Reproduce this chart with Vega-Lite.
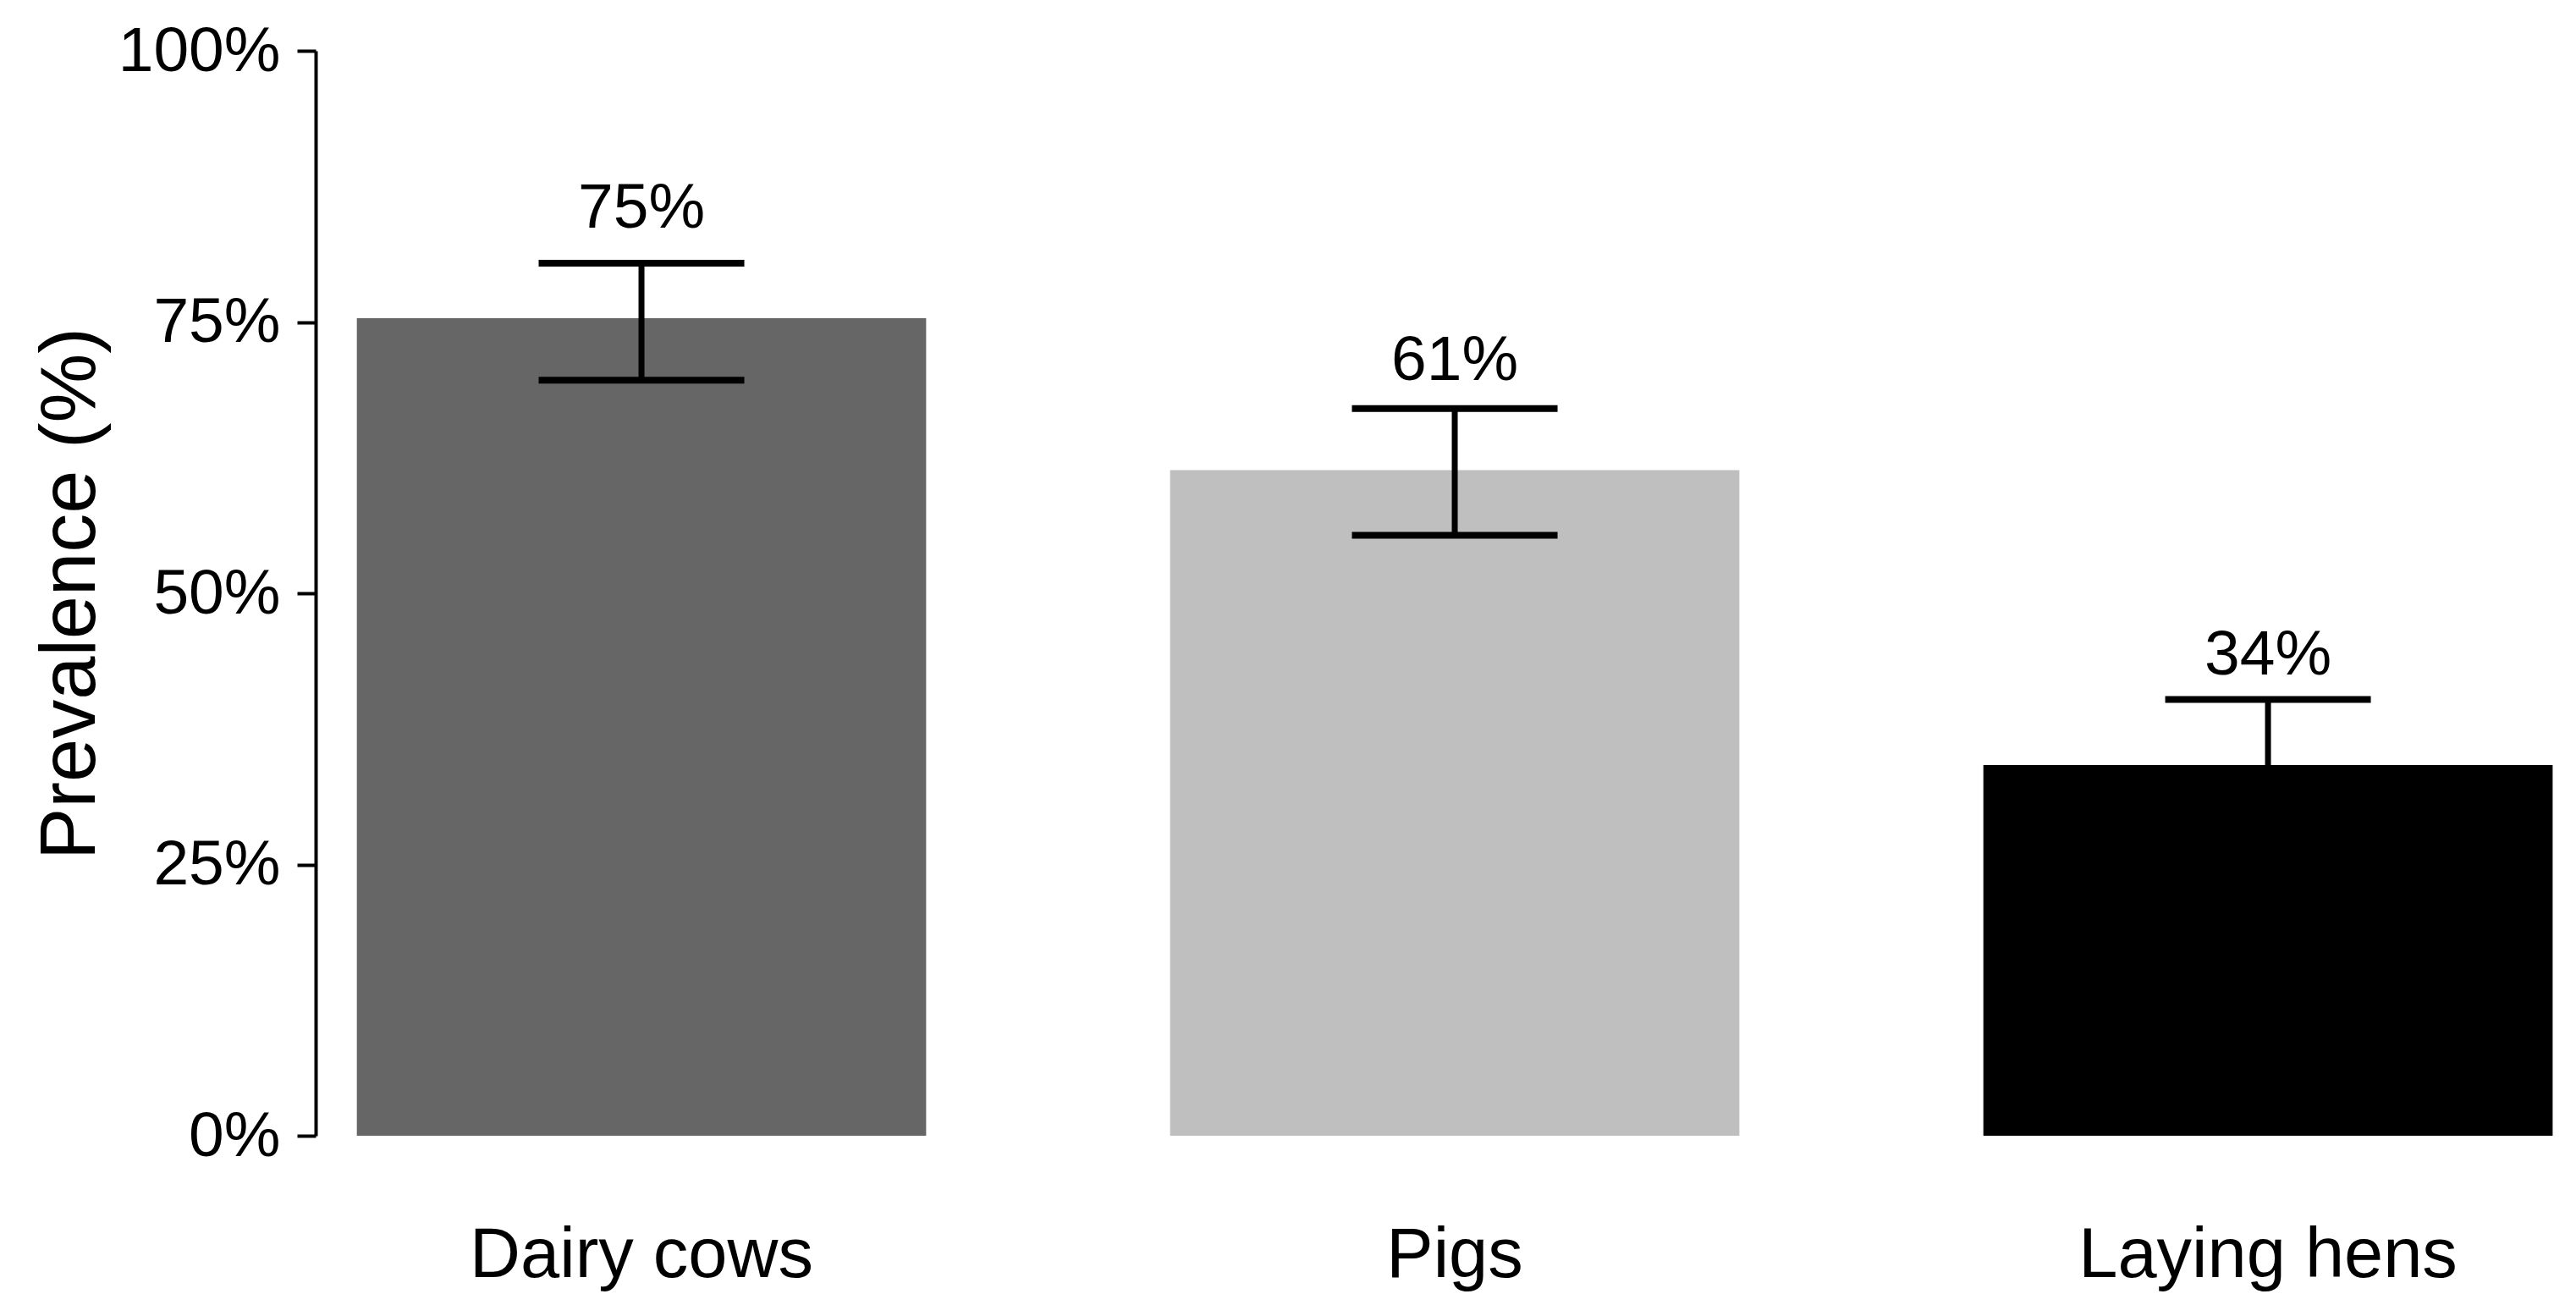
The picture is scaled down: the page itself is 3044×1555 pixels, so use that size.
{
  "$schema": "https://vega.github.io/schema/vega-lite/v6.json",
  "autosize": "none",
  "width": 2662,
  "height": 1282,
  "padding": {"left": 373, "top": 60, "right": 9, "bottom": 213},
  "background": "white",
  "config": {
    "view": {"stroke": null},
    "font": "Liberation Sans"
  },
  "data": {
    "values": [
      {"species": "Dairy cows", "prevalence": 75.36, "lower": 69.64, "upper": 80.43, "label": "75%"},
      {"species": "Pigs", "prevalence": 61.34, "lower": 55.34, "upper": 67.03, "label": "61%"},
      {"species": "Laying hens", "prevalence": 34.16, "lower": 28.1, "upper": 40.21, "label": "34%"}
    ]
  },
  "encoding": {
    "x": {
      "field": "species",
      "type": "nominal",
      "sort": ["Dairy cows", "Pigs", "Laying hens"],
      "scale": {"paddingInner": 0.3, "paddingOuter": 0.035, "align": 0.7236},
      "axis": {
        "title": null,
        "labelAngle": 0,
        "ticks": false,
        "domain": false,
        "labelFontSize": 83,
        "labelColor": "black",
        "labelBaseline": "alphabetic",
        "labelPadding": 166,
        "labelLimit": 0,
        "labelFont": "Liberation Sans"
      }
    }
  },
  "layer": [
    {
      "mark": {"type": "bar"},
      "encoding": {
        "y": {
          "field": "prevalence",
          "type": "quantitative",
          "scale": {"domain": [0, 100], "nice": false},
          "axis": {
            "title": "Prevalence (%)",
            "titleFontSize": 92,
            "titleFontWeight": "normal",
            "titleColor": "black",
            "titlePadding": 43,
            "titleFont": "Liberation Sans",
            "values": [0, 25, 50, 75, 100],
            "labelExpr": "datum.value + '%'",
            "labelFontSize": 75,
            "labelColor": "black",
            "labelPadding": 20,
            "labelLimit": 0,
            "labelFont": "Liberation Sans",
            "tickSize": 22,
            "tickWidth": 4,
            "tickColor": "black",
            "domainColor": "black",
            "domainWidth": 4,
            "grid": false
          }
        },
        "color": {
          "field": "species",
          "type": "nominal",
          "scale": {"domain": ["Dairy cows", "Pigs", "Laying hens"], "range": ["#666666", "#bfbfbf", "#000000"]},
          "legend": null
        }
      }
    },
    {
      "mark": {"type": "rule", "color": "black", "strokeWidth": 7},
      "encoding": {
        "y": {"field": "lower", "type": "quantitative"},
        "y2": {"field": "upper"}
      }
    },
    {
      "mark": {"type": "tick", "color": "black", "opacity": 1, "size": 243, "thickness": 8, "orient": "horizontal"},
      "encoding": {
        "y": {"field": "upper", "type": "quantitative"}
      }
    },
    {
      "mark": {"type": "tick", "color": "black", "opacity": 1, "size": 243, "thickness": 8, "orient": "horizontal"},
      "encoding": {
        "y": {"field": "lower", "type": "quantitative"}
      }
    },
    {
      "mark": {"type": "text", "fontSize": 75, "baseline": "alphabetic", "align": "center", "dy": -107, "color": "black", "font": "Liberation Sans"},
      "encoding": {
        "y": {"field": "prevalence", "type": "quantitative"},
        "text": {"field": "label"}
      }
    }
  ]
}
